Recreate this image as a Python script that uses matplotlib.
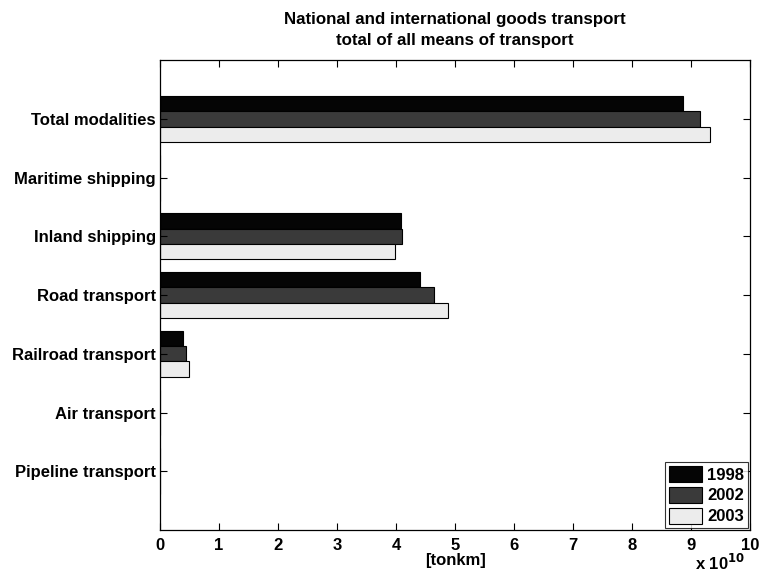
import matplotlib
matplotlib.use("Agg")
import matplotlib.pyplot as plt
import numpy as np
from matplotlib.ticker import FuncFormatter

categories = ["Total modalities", "Maritime shipping", "Inland shipping",
              "Road transport", "Railroad transport", "Air transport",
              "Pipeline transport"]
years = ["1998", "2002", "2003"]
v1998 = [8.86e10, 0.0, 4.08e10, 4.41e10, 0.39e10, 0.0, 0.0]
v2002 = [9.15e10, 0.0, 4.10e10, 4.64e10, 0.44e10, 0.0, 0.0]
v2003 = [9.32e10, 0.0, 3.98e10, 4.88e10, 0.49e10, 0.0, 0.0]

colors = ["#050505", "#3a3a3a", "#ececec"]

plt.rcParams['font.family'] = ['Liberation Sans', 'DejaVu Sans']
plt.rcParams['font.weight'] = 'bold'

FS = 12

fig = plt.figure(figsize=(7.59, 5.73), dpi=100)
ax = fig.add_axes([0.211, 0.075, 0.777, 0.820])

n = len(categories)
ypos = np.arange(n, 0, -1)  # Total at top
h = 0.26
for i, (vals, col, lab) in enumerate(zip([v1998, v2002, v2003], colors, years)):
    ax.barh(ypos + (1 - i) * h, vals, height=h, color=col, edgecolor='black',
            linewidth=0.8, label=lab)

ax.set_ylim(0, n + 1)
ax.set_xlim(0, 1e11)
ax.set_xticks(np.arange(0, 11) * 1e10)
ax.xaxis.set_major_formatter(FuncFormatter(lambda x, p: f"{x/1e10:.0f}"))
ax.set_yticks(ypos)
ax.set_yticklabels(categories)
ax.tick_params(direction='in', top=True, right=True, labelsize=FS, length=5,
               width=0.8, pad=3)
ax.tick_params(axis='x', pad=6)
for lbl in ax.get_xticklabels() + ax.get_yticklabels():
    lbl.set_fontweight('bold')
for s in ax.spines.values():
    s.set_linewidth(0.9)

ax.set_xlabel("[tonkm]", fontsize=FS, fontweight='bold', labelpad=0)
ax.set_title("National and international goods transport\ntotal of all means of transport",
             fontsize=12.2, fontweight='bold', pad=11, linespacing=1.45)
fig.text(0.982, 0.0, r"x 10$^{10}$", ha='right', va='bottom', fontsize=FS,
         fontweight='bold')

leg = ax.legend(loc='lower right', fontsize=FS, frameon=True, fancybox=False,
                edgecolor='black', handlelength=2.0, handleheight=1.1,
                borderaxespad=0.1, labelspacing=0.25, handletextpad=0.3,
                borderpad=0.25)
leg.get_frame().set_linewidth(0.8)
for t in leg.get_texts():
    t.set_fontweight('bold')

fig.savefig("out.png", dpi=100)
